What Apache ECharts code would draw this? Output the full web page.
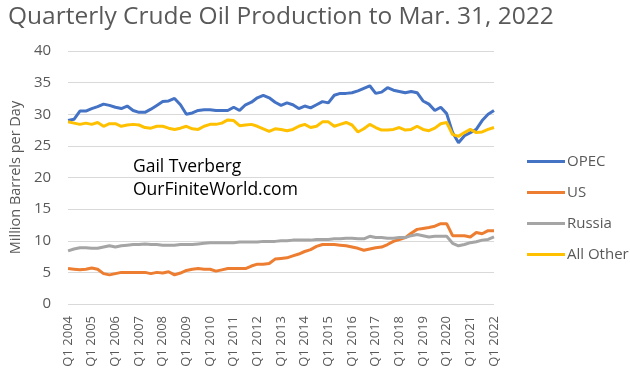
<!DOCTYPE html>
<html>
<head>
<meta charset="utf-8">
<script src="https://cdn.jsdelivr.net/npm/echarts@6/dist/echarts.min.js"></script>
<style>
  html, body { margin: 0; padding: 0; background: #fff; }
  #chart { width: 630px; height: 378px; }
</style>
</head>
<body>
<div id="chart"></div>
<script>
// quarters Q1 2004 .. Q1 2022
const years = [2004, 2005, 2006, 2007, 2008, 2009, 2010, 2011, 2012, 2013, 2014, 2015, 2016, 2017, 2018, 2019, 2020, 2021, 2022]
const yTicks = [0, 5, 10, 15, 20, 25, 30, 35, 40]

const opec = [29.0, 29.2, 30.5, 30.5, 30.9, 31.2, 31.6, 31.4, 31.1, 30.9, 31.3, 30.6, 30.3, 30.3, 30.8, 31.4,
  32.0, 32.1, 32.5, 31.5, 30.0, 30.2, 30.6, 30.7, 30.7, 30.6, 30.6, 30.6, 31.1, 30.6, 31.5, 31.9,
  32.6, 33.0, 32.6, 31.9, 31.4, 31.8, 31.5, 30.9, 31.3, 31.0, 31.5, 32.0, 31.8, 33.0, 33.3, 33.3,
  33.4, 33.7, 34.1, 34.5, 33.3, 33.5, 34.2, 33.8, 33.6, 33.4, 33.6, 33.4, 32.1, 31.6, 30.6, 31.1,
  30.1, 27.1, 25.5, 26.6, 27.1, 27.6, 29.0, 30.0, 30.6]

const us = [5.6, 5.5, 5.4, 5.5, 5.7, 5.5, 4.8, 4.6, 4.8, 5.0, 5.0, 5.0, 5.0, 5.0, 4.8, 5.0,
  4.9, 5.1, 4.6, 4.9, 5.3, 5.5, 5.6, 5.5, 5.5, 5.2, 5.4, 5.6, 5.6, 5.6, 5.6, 6.0,
  6.3, 6.3, 6.4, 7.1, 7.2, 7.3, 7.6, 7.9, 8.3, 8.6, 9.1, 9.4, 9.4, 9.4, 9.3, 9.2,
  9.0, 8.8, 8.5, 8.7, 8.9, 9.0, 9.4, 9.9, 10.2, 10.5, 11.2, 11.8, 11.95, 12.1, 12.3, 12.7,
  12.7, 10.8, 10.8, 10.8, 10.6, 11.3, 11.1, 11.6, 11.6]

const russia = [8.4, 8.7, 8.9, 8.9, 8.8, 8.8, 9.0, 9.2, 9.0, 9.2, 9.3, 9.4, 9.4, 9.5, 9.4, 9.4,
  9.3, 9.3, 9.3, 9.4, 9.4, 9.4, 9.5, 9.6, 9.7, 9.7, 9.7, 9.7, 9.7, 9.8, 9.8, 9.8,
  9.8, 9.9, 9.9, 9.9, 10.0, 10.0, 10.1, 10.1, 10.1, 10.1, 10.2, 10.2, 10.2, 10.3, 10.3, 10.4,
  10.4, 10.3, 10.3, 10.7, 10.5, 10.5, 10.4, 10.4, 10.5, 10.5, 10.8, 11.0, 10.8, 10.6, 10.7, 10.7,
  10.7, 9.6, 9.2, 9.4, 9.7, 9.85, 10.1, 10.2, 10.6]

const allOther = [28.8, 28.6, 28.4, 28.6, 28.4, 28.7, 28.1, 28.5, 28.5, 28.1, 28.3, 28.4, 28.3, 27.9, 27.8, 28.1,
  28.1, 27.8, 27.6, 27.8, 28.1, 27.7, 27.6, 28.1, 28.4, 28.4, 28.6, 29.1, 29.0, 28.2, 28.3, 28.4,
  28.1, 27.7, 27.3, 27.7, 27.6, 27.4, 27.6, 28.1, 28.4, 27.9, 28.1, 28.8, 28.8, 28.1, 28.4, 28.7,
  28.3, 27.2, 27.7, 28.4, 27.9, 27.5, 27.5, 27.6, 27.9, 27.5, 27.6, 28.1, 27.6, 27.4, 27.8, 28.5,
  28.7, 26.8, 26.5, 27.1, 27.6, 27.1, 27.2, 27.6, 27.9]

// build category names
const quarters = []
years.forEach(y => {
    for (let q = 1; q <= 4; q++) {
        if (y === 2022 && q > 1) break
        quarters.push('Q' + q + ' ' + y)
    }
})

const font = 'Open Sans'
const grey = '#595959'

const chart = echarts.init(document.getElementById('chart'))

const mkLine = (name, data, color) => ({
    name: name,
    type: 'line',
    data: data,
    symbol: 'none',
    smooth: false,
    lineStyle: { width: 3, color: color },
    itemStyle: { color: color }
})

chart.setOption({
    animation: false,
    textStyle: { fontFamily: font },
    title: {
        text: 'Quarterly Crude Oil Production to Mar. 31, 2022',
        left: 3,
        top: 0,
        textStyle: { fontFamily: font, fontSize: 24.5, fontWeight: 'normal', color: grey }
    },
    legend: {
        orient: 'vertical',
        left: 522,
        top: 149,
        itemWidth: 38,
        itemHeight: 3,
        itemGap: 16,
        icon: 'rect',
        textStyle: { fontFamily: font, fontSize: 15, color: grey, padding: [0, 0, 0, -3] },
        data: ['OPEC', 'US', 'Russia', 'All Other']
    },
    grid: { left: 61, right: 136, top: 51, bottom: 74 },
    xAxis: {
        type: 'category',
        data: quarters,
        boundaryGap: false,
        axisLine: { show: false },
        axisTick: { show: false },
        axisLabel: {
            interval: 3,
            rotate: 90,
            margin: 12,
            fontFamily: font,
            fontSize: 13,
            color: grey
        }
    },
    yAxis: {
        type: 'value',
        min: yTicks[0],
        max: yTicks[yTicks.length - 1],
        interval: 5,
        name: 'Million Barrels per Day',
        nameLocation: 'middle',
        nameRotate: 90,
        nameGap: 43,
        nameTextStyle: { fontFamily: font, fontSize: 14.5, color: grey },
        axisLine: { show: false },
        axisTick: { show: false },
        axisLabel: { margin: 17, fontFamily: font, fontSize: 15, color: grey },
        splitLine: { lineStyle: { color: '#d9d9d9', width: 1 } }
    },
    graphic: [
        { type: 'text', left: 133, top: 158, style: { text: 'Gail Tverberg', fontFamily: font, fontSize: 17.5, fill: '#000' } },
        { type: 'text', left: 133, top: 181, style: { text: 'OurFiniteWorld.com', fontFamily: font, fontSize: 17.5, fill: '#000' } }
    ],
    series: [
        mkLine('OPEC', opec, '#4472c4'),
        mkLine('US', us, '#ed7d31'),
        mkLine('Russia', russia, '#a5a5a5'),
        mkLine('All Other', allOther, '#ffc000')
    ]
})
</script>
</body>
</html>
